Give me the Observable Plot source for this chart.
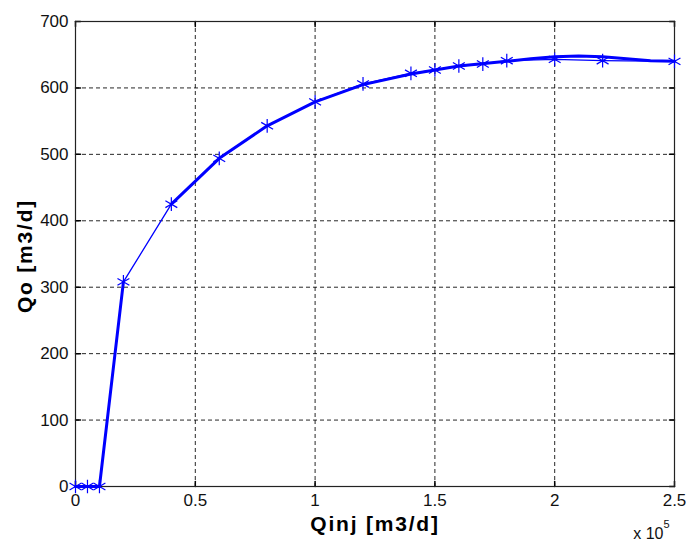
<!DOCTYPE html>
<html>
<head>
<meta charset="utf-8">
<script src="https://cdn.jsdelivr.net/npm/d3@7"></script>
<script src="https://cdn.jsdelivr.net/npm/@observablehq/plot@0.6"></script>
<style>
  html, body { margin: 0; padding: 0; background: #fff; }
  #chart { width: 686px; height: 541px; }
</style>
</head>
<body>
<div id="chart"></div>
<script>
// Measured data points (markers)
const qinj = [0, 5000, 10000, 20000, 40000, 60000, 80000, 100000, 120000, 140000, 150000, 160000, 170000, 180000, 200000, 220000, 250000];
const qo   = [0, 0, 0, 308, 425, 494, 543, 579, 606, 622, 627, 633, 636, 641, 643, 641, 640];

// Thick fitted curve (null = gap)
const fitQinj = [0, 5000, 10000, 20000, 30000, 40000, 60000, 80000, 100000, 120000, 140000, 160000, 180000, 190000, 200000, 210000, 220000, 230000, 240000, 250000];
const fitQo   = [0, 0, 0, 308, null, 425, 494, 543, 579, 605, 621, 633, 640, 644, 647, 648, 647, 644, 641, 640];

const xTicks = [0, 50000, 100000, 150000, 200000, 250000];
const yTicks = [0, 100, 200, 300, 400, 500, 600, 700];

const pts = qinj.map((x, i) => ({x, y: qo[i]}));
const fit = fitQinj.map((x, i) => ({x, y: fitQo[i]}));

const tickShape = {draw(ctx, l) { ctx.moveTo(0, 0); ctx.lineTo(0, -l); }};
const blue = "#0000ff";

const plot = Plot.plot({
  width: 686,
  height: 541,
  marginLeft: 75,
  marginRight: 12,
  marginTop: 21,
  marginBottom: 55,
  style: {fontFamily: "'Liberation Sans', Arial, sans-serif", fontSize: "17px", color: "#111", background: "#fff"},
  x: {domain: [0, 250000]},
  y: {domain: [0, 700]},
  marks: [
    Plot.gridX(xTicks, {stroke: "#000", strokeOpacity: 0.85, strokeDasharray: "4,3"}),
    Plot.gridY(yTicks, {stroke: "#000", strokeOpacity: 0.85, strokeDasharray: "4,3"}),
    // inward tick marks (MATLAB style)
    Plot.vector(yTicks, {y: d => d, frameAnchor: "left", length: 5, rotate: 90, anchor: "start", shape: tickShape, stroke: "#000"}),
    Plot.vector(yTicks, {y: d => d, frameAnchor: "right", length: 5, rotate: -90, anchor: "start", shape: tickShape, stroke: "#000"}),
    Plot.vector(xTicks, {x: d => d, frameAnchor: "bottom", length: 5, rotate: 0, anchor: "start", shape: tickShape, stroke: "#000"}),
    Plot.vector(xTicks, {x: d => d, frameAnchor: "top", length: 5, rotate: 180, anchor: "start", shape: tickShape, stroke: "#000"}),
    Plot.frame({stroke: "#222", strokeWidth: 1.2}),
    Plot.axisX(xTicks, {tickSize: 0, tickPadding: 7, tickFormat: d => String(d / 1e5), label: null, fontSize: 17}),
    Plot.axisY(yTicks, {tickSize: 0, tickPadding: 7, label: null, fontSize: 17}),
    Plot.line(pts, {x: "x", y: "y", stroke: blue, strokeWidth: 1.3}),
    Plot.line(fit, {x: "x", y: "y", stroke: blue, strokeWidth: 3}),
    Plot.dot(pts, {x: "x", y: "y", symbol: "asterisk", r: 6.5, stroke: blue, strokeWidth: 1.2}),
    Plot.text(["Qinj [m3/d]"], {frameAnchor: "bottom", textAnchor: "middle", dy: 44, fontWeight: "bold", fontSize: 21, fill: "#000"}),
    Plot.text(["Qo [m3/d]"], {frameAnchor: "left", textAnchor: "middle", dx: -50, dy: 2, rotate: -90, fontWeight: "bold", fontSize: 21, fill: "#000"}),
    Plot.text(["x 10"], {frameAnchor: "bottom-right", textAnchor: "end", dx: -11, dy: 52, fontSize: 16, fill: "#111"}),
    Plot.text(["5"], {frameAnchor: "bottom-right", textAnchor: "end", dx: -5, dy: 41, fontSize: 11, fill: "#111"})
  ]
});

d3.select(plot).selectAll("text")
  .filter(function() { return this.textContent.includes("[m3/d]"); })
  .style("letter-spacing", "1.8px");
document.getElementById("chart").appendChild(plot);
</script>
</body>
</html>
